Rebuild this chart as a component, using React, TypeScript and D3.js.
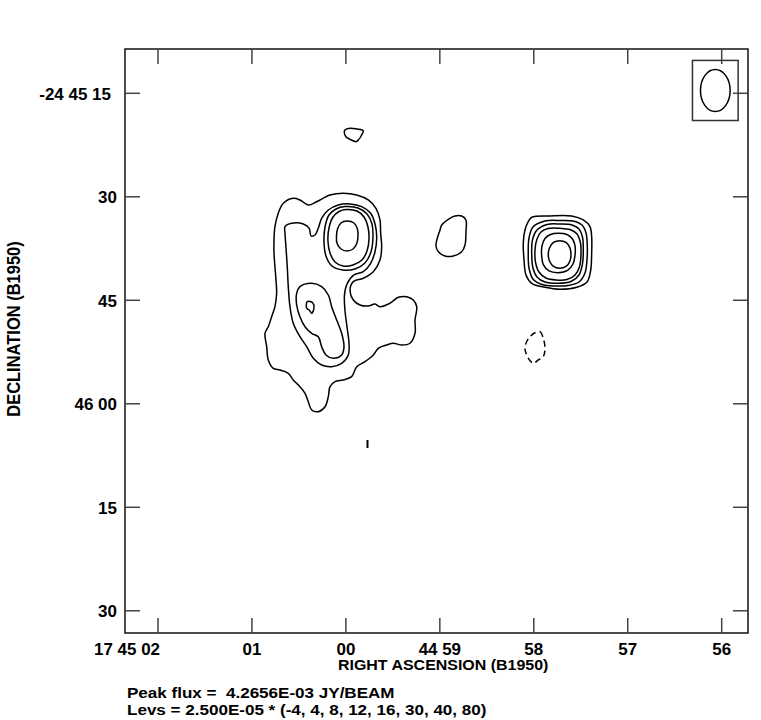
import React from 'react';
import * as d3 from 'd3';

// Axis ticks: RA in seconds of time relative to 17h45m00s (east = positive, plotted to the left)
const raTicks = [2, 1, 0, -1, -2, -3, -4];
const raTickLabels = ['17 45 02', '01', '00', '44 59', '58', '57', '56'];
// Dec in arcsec south of -24°45'00"
const decTicks = [15, 30, 45, 60, 75, 90];
const decTickLabels = ['-24 45 15', '30', '45', '46 00', '15', '30'];

const peakFluxText = 'Peak flux =  4.2656E-03 JY/BEAM';
const levsText = 'Levs = 2.500E-05 * (-4, 4, 8, 12, 16, 30, 40, 80)';
const xTitle = 'RIGHT ASCENSION (B1950)';
const yTitle = 'DECLINATION (B1950)';

// Plotted window (data units)
const raRange = [2.351, -4.28];
const decRange = [8.58, 93.22];

// Beam (arcsec) and its centre
const beamMajor = 6.1;
const beamMinor = 4.3;
const beamCentre: [number, number] = [-3.932, 14.59];

type P = [number, number];

// ---- Contours, western complex ----
const west4: P[] = [
  [0.666, 30.94], [0.56, 30.22], [0.489, 30.46], [0.4, 31.19], [0.311, 30.71], [0.169, 29.74],
  [0.028, 29.49], [-0.115, 29.74], [-0.238, 30.46], [-0.32, 31.67], [-0.363, 33.36], [-0.37, 35.29],
  [-0.381, 37.23], [-0.363, 39.16], [-0.292, 40.86], [-0.185, 41.81], [-0.079, 42.3], [-0.044, 43.51],
  [-0.079, 44.96], [-0.15, 45.68], [-0.238, 45.83], [-0.31, 45.54], [-0.363, 45.93], [-0.469, 45.43],
  [-0.558, 44.57], [-0.647, 44.48], [-0.717, 44.96], [-0.754, 45.93], [-0.736, 47.86], [-0.736, 49.78],
  [-0.682, 51.23], [-0.594, 51.48], [-0.505, 51.23], [-0.434, 51.48], [-0.345, 51.96], [-0.292, 52.93],
  [-0.203, 53.9], [-0.115, 54.62], [-0.062, 56.07], [0.028, 56.55], [0.116, 56.8], [0.169, 57.52],
  [0.187, 58.97], [0.222, 60.42], [0.294, 61.14], [0.364, 60.9], [0.4, 59.7], [0.435, 58.48],
  [0.489, 57.52], [0.56, 56.55], [0.613, 55.58], [0.701, 55.1], [0.773, 54.86], [0.826, 53.65],
  [0.843, 51.72], [0.861, 49.78], [0.826, 48.83], [0.79, 47.38], [0.755, 45.93], [0.737, 43.99],
  [0.744, 42.06], [0.755, 40.13], [0.765, 38.19], [0.765, 36.26], [0.755, 34.33], [0.72, 32.39],
];
const west8: P[] = [
  [0.648, 34.33], [0.577, 33.84], [0.453, 33.94], [0.39, 34.57], [0.371, 35.68], [0.329, 35.54],
  [0.294, 34.57], [0.258, 33.12], [0.187, 31.91], [0.081, 31.19], [-0.044, 31.04], [-0.168, 31.43],
  [-0.264, 32.39], [-0.313, 34.09], [-0.328, 36.01], [-0.31, 37.96], [-0.264, 39.64], [-0.185, 40.86],
  [-0.086, 41.33], [-0.012, 42.64], [0.015, 44.23], [0.01, 46.41], [-0.012, 48.87], [-0.033, 51.19],
  [-0.026, 52.93], [0.045, 54.13], [0.151, 54.62], [0.258, 54.38], [0.347, 53.41], [0.417, 51.72],
  [0.489, 50.28], [0.56, 48.33], [0.595, 45.93], [0.613, 43.03], [0.624, 40.13], [0.638, 37.23],
  [0.648, 35.29],
];
const westLobe12: P[] = [
  [0.489, 43.03], [0.364, 42.54], [0.258, 43.03], [0.187, 44.23], [0.151, 45.93], [0.098, 47.86],
  [0.045, 49.78], [0.02, 51.72], [0.045, 52.93], [0.134, 53.41], [0.212, 52.93], [0.258, 51.72],
  [0.294, 50.28], [0.364, 49.78], [0.435, 48.83], [0.489, 47.38], [0.524, 45.68], [0.524, 43.99],
];
const westLobe16: P[] = [
  [0.411, 45.2], [0.353, 45.35], [0.34, 46.16], [0.364, 46.88], [0.39, 46.41], [0.417, 46.16],
];
const westPeak12: P[] = [
  [0.01, 31.41], [-0.129, 31.62], [-0.225, 32.49], [-0.278, 33.94], [-0.288, 35.97], [-0.267, 38.0],
  [-0.203, 39.59], [-0.097, 40.46], [0.031, 40.61], [0.148, 40.03], [0.212, 38.58], [0.233, 36.55],
  [0.222, 34.38], [0.18, 32.64], [0.105, 31.77],
];
const westPeak16: P[] = [
  [-0.001, 31.84], [-0.118, 32.06], [-0.193, 32.93], [-0.235, 34.38], [-0.246, 36.12], [-0.225, 37.86],
  [-0.171, 39.16], [-0.076, 39.88], [0.031, 40.03], [0.116, 39.45], [0.169, 38.14], [0.191, 36.41],
  [0.18, 34.52], [0.137, 32.93], [0.073, 32.13],
];
const westPeak30: P[] = [
  [-0.012, 33.51], [-0.086, 33.8], [-0.123, 34.67], [-0.129, 35.68], [-0.118, 36.7], [-0.076, 37.57],
  [-0.012, 37.86], [0.052, 37.57], [0.095, 36.7], [0.1, 35.68], [0.089, 34.67], [0.052, 33.8],
];
const northKnot4: P[] = [
  [0.01, 20.32], [-0.044, 20.07], [-0.115, 20.17], [-0.185, 20.42], [-0.168, 21.04], [-0.132, 21.77],
  [-0.108, 22.01], [-0.044, 21.67], [-0.001, 21.29], [0.017, 20.71],
];
const middleBlob4: P[] = [
  [-1.02, 34.09], [-1.09, 33.26], [-1.161, 32.78], [-1.233, 32.78], [-1.278, 33.36], [-1.278, 35.06],
  [-1.268, 36.99], [-1.233, 37.96], [-1.143, 38.58], [-1.055, 38.58], [-0.984, 37.96], [-0.959, 37.13],
  [-0.973, 36.01], [-1.002, 34.81],
];
const southSpeck4: P[] = [[-0.23, 65.25], [-0.23, 66.41]];

// ---- Contours, eastern compact source ----
const east4: P[] = [
  [-1.978, 32.97], [-2.172, 32.78], [-2.403, 32.78], [-2.527, 33.36], [-2.598, 34.33], [-2.616, 35.78],
  [-2.616, 38.19], [-2.606, 40.61], [-2.569, 42.3], [-2.457, 43.12], [-2.279, 43.41], [-2.119, 43.12],
  [-1.978, 42.54], [-1.917, 41.33], [-1.896, 39.16], [-1.888, 36.74], [-1.906, 34.81], [-1.941, 33.61],
];
const east8: P[] = [
  [-2.119, 33.51], [-2.279, 33.43], [-2.417, 33.51], [-2.513, 34.09], [-2.556, 35.25], [-2.569, 36.99],
  [-2.566, 39.16], [-2.545, 41.04], [-2.481, 42.35], [-2.364, 42.86], [-2.226, 42.93], [-2.087, 42.71],
  [-1.991, 41.91], [-1.949, 40.32], [-1.941, 38.14], [-1.949, 35.97], [-1.991, 34.38],
];
const east12: P[] = [
  [-2.141, 34.01], [-2.279, 33.94], [-2.407, 34.09], [-2.481, 34.67], [-2.518, 35.83], [-2.527, 37.71],
  [-2.518, 39.74], [-2.481, 41.33], [-2.396, 42.28], [-2.258, 42.54], [-2.119, 42.35], [-2.034, 41.62],
  [-1.991, 40.32], [-1.978, 38.29], [-1.986, 36.26], [-2.034, 34.81],
];
const east16: P[] = [
  [-2.151, 34.59], [-2.279, 34.57], [-2.385, 34.74], [-2.46, 35.39], [-2.497, 36.7], [-2.502, 38.43],
  [-2.486, 40.17], [-2.439, 41.33], [-2.353, 41.99], [-2.236, 42.06], [-2.13, 41.77], [-2.055, 40.9],
  [-2.018, 39.45], [-2.013, 37.71], [-2.034, 36.12], [-2.077, 35.1],
];
const east30: P[] = [
  [-2.258, 35.29], [-2.353, 35.46], [-2.412, 36.12], [-2.439, 37.13], [-2.439, 38.43], [-2.417, 39.74],
  [-2.359, 40.68], [-2.258, 41.0], [-2.162, 40.75], [-2.103, 39.88], [-2.084, 38.58], [-2.087, 37.13],
  [-2.119, 36.04], [-2.178, 35.46],
];
const east40: P[] = [
  [-2.276, 36.36], [-2.343, 36.62], [-2.385, 37.42], [-2.396, 38.36], [-2.385, 39.3], [-2.343, 40.1],
  [-2.276, 40.36], [-2.21, 40.1], [-2.167, 39.3], [-2.154, 38.36], [-2.167, 37.42], [-2.21, 36.62],
];
const eastNeg4: P[] = [
  [-2.013, 49.7], [-2.066, 49.55], [-2.101, 50.51], [-2.119, 51.96], [-2.101, 53.17], [-2.048, 53.65],
  [-1.995, 54.13], [-1.96, 53.75], [-1.924, 52.93], [-1.906, 51.96], [-1.924, 51.0], [-1.967, 50.17],
];

const contours: { level: number; pts: P[]; closed: boolean }[] = [
  { level: 4, pts: west4, closed: true },
  { level: 8, pts: west8, closed: true },
  { level: 12, pts: westLobe12, closed: true },
  { level: 16, pts: westLobe16, closed: true },
  { level: 12, pts: westPeak12, closed: true },
  { level: 16, pts: westPeak16, closed: true },
  { level: 30, pts: westPeak30, closed: true },
  { level: 4, pts: northKnot4, closed: true },
  { level: 4, pts: middleBlob4, closed: true },
  { level: 4, pts: southSpeck4, closed: false },
  { level: 4, pts: east4, closed: true },
  { level: 8, pts: east8, closed: true },
  { level: 12, pts: east12, closed: true },
  { level: 16, pts: east16, closed: true },
  { level: 30, pts: east30, closed: true },
  { level: 40, pts: east40, closed: true },
  { level: -4, pts: eastNeg4, closed: true },
];

const FONT = '"Liberation Sans", Arial, Helvetica, sans-serif';

function Txt(props: {
  x: number; y: number; size: number; sx: number; anchor?: string; rotate?: number; children: React.ReactNode;
}) {
  const { x, y, size, sx, anchor = 'start', rotate = 0, children } = props;
  return (
    <text
      transform={`translate(${x},${y}) scale(${sx},1)${rotate ? ` rotate(${rotate})` : ''}`}
      fontFamily={FONT}
      fontWeight="bold"
      fontSize={size}
      textAnchor={anchor}
      fill="#000"
      style={{ whiteSpace: 'pre' }}
    >
      {children}
    </text>
  );
}

export default function App() {
  const left = 125, right = 748, top = 49, bottom = 633;
  const x = d3.scaleLinear().domain(raRange).range([left, right]);
  const y = d3.scaleLinear().domain(decRange).range([top, bottom]);
  const tickLen = 15;

  const closedLine = d3.line<P>().x(d => x(d[0])).y(d => y(d[1])).curve(d3.curveCatmullRomClosed.alpha(0.5));
  const openLine = d3.line<P>().x(d => x(d[0])).y(d => y(d[1]));

  const pxPerArcsec = Math.abs(y(1) - y(0));
  const bx = x(beamCentre[0]);
  const by = y(beamCentre[1]);
  const brx = (beamMinor / 2) * pxPerArcsec;
  const bry = (beamMajor / 2) * pxPerArcsec;
  const padX = 8, padY = 9;

  return (
    <svg width={761} height={720} style={{ position: 'absolute', left: 0, top: 0, background: '#fff' }}>
      <rect x={0} y={0} width={761} height={720} fill="#fff" />
      {contours.map((c, i) => (
        <path
          key={i}
          d={(c.closed ? closedLine : openLine)(c.pts) || ''}
          fill="none"
          stroke="#000"
          strokeWidth={c.closed ? 1.5 : 2}
          strokeDasharray={c.level < 0 ? '6 4' : undefined}
          strokeLinejoin="round"
        />
      ))}
      {/* beam */}
      <rect x={bx - brx - padX} y={by - bry - padY} width={2 * (brx + padX)} height={2 * (bry + padY)}
        fill="none" stroke="#333" strokeWidth={1.5} />
      <ellipse cx={bx} cy={by} rx={brx} ry={bry} fill="none" stroke="#000" strokeWidth={1.5} />
      {/* frame */}
      <rect x={left} y={top} width={right - left} height={bottom - top} fill="none" stroke="#111" strokeWidth={1.5} />
      {/* ticks */}
      {raTicks.map((t, i) => (
        <g key={'rx' + i} stroke="#444" strokeWidth={1.5}>
          <line x1={x(t)} x2={x(t)} y1={top} y2={top + tickLen} />
          <line x1={x(t)} x2={x(t)} y1={bottom} y2={bottom - tickLen} />
        </g>
      ))}
      {decTicks.map((t, i) => (
        <g key={'dy' + i} stroke="#444" strokeWidth={1.5}>
          <line x1={left} x2={left + tickLen} y1={y(t)} y2={y(t)} />
          <line x1={right} x2={right - tickLen} y1={y(t)} y2={y(t)} />
        </g>
      ))}
      {/* tick labels */}
      {raTicks.map((t, i) => (
        <Txt key={'rl' + i} x={i === 0 ? x(t) + 2 : x(t)} y={654.5} size={16} sx={1.06}
          anchor={i === 0 ? 'end' : 'middle'}>{raTickLabels[i]}</Txt>
      ))}
      {decTicks.map((t, i) => (
        <Txt key={'dl' + i} x={i === 0 ? 111 : 117} y={y(t) + 6.5} size={16.5} sx={1.03} anchor="end">
          {decTickLabels[i]}
        </Txt>
      ))}
      {/* titles */}
      <Txt x={338} y={670} size={15.5} sx={1.03}>{xTitle}</Txt>
      <Txt x={20} y={329} size={16.5} sx={1.08} anchor="middle" rotate={-90}>{yTitle}</Txt>
      <Txt x={127} y={698} size={15.5} sx={1.1}>{peakFluxText}</Txt>
      <Txt x={127} y={714.5} size={15.5} sx={1.1}>{levsText}</Txt>
    </svg>
  );
}
